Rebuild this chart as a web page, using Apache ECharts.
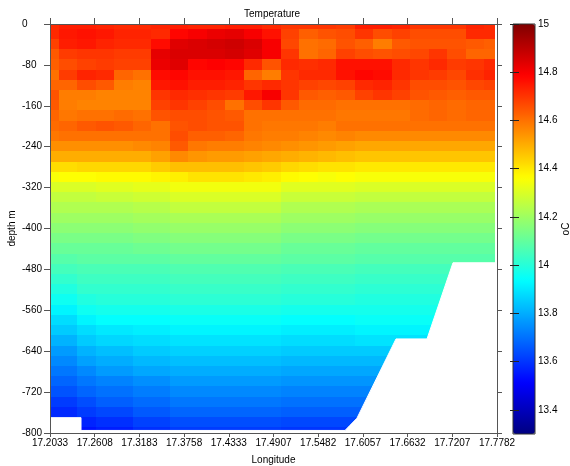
<!DOCTYPE html>
<html lang="en">
<head>
    <meta charset="UTF-8">
    <title>Temperature</title>
    <script src="https://cdn.jsdelivr.net/npm/echarts@6/dist/echarts.min.js"></script>
    <style>
        html, body { margin: 0; padding: 0; background: #fff; }
        #main { width: 570px; height: 466px; }
    </style>
</head>
<body>
<div id="main"></div>
<script>
    // station longitudes (column centres)
    var lons = [17.2033, 17.2271, 17.2509, 17.2747, 17.2985, 17.3223, 17.3461, 17.3699, 17.3937, 17.4175,
                17.4413, 17.4651, 17.4889, 17.5127, 17.5365, 17.5603, 17.5841, 17.6079, 17.6317, 17.6555,
                17.6793, 17.7031, 17.7269, 17.7507, 17.7744];

    // depth levels (m)
    var depths = [0, -20, -40, -60, -80, -100, -120, -140, -160, -180, -200, -220, -240, -260, -280, -300,
                  -320, -340, -360, -380, -400, -420, -440, -460, -480, -500, -520, -540, -560, -580, -600,
                  -620, -640, -660, -680, -700, -720, -740, -760, -780, -800];

    // temperature (oC), one row per depth level, one value per station; null = below the sea floor
    var temps = [
        [14.72,14.74,14.74,14.73,14.72,14.72,14.73,14.74,14.73,14.73,14.74,14.74,14.72,14.70,14.70,14.70,14.69,14.74,14.74,14.73,14.70,14.70,14.70,14.73,14.72],
        [14.72,14.75,14.76,14.75,14.73,14.73,14.72,14.78,14.80,14.82,14.83,14.80,14.76,14.68,14.63,14.65,14.66,14.70,14.66,14.68,14.66,14.66,14.66,14.72,14.72],
        [14.68,14.74,14.75,14.73,14.72,14.72,14.77,14.84,14.85,14.86,14.87,14.85,14.80,14.67,14.60,14.61,14.65,14.63,14.58,14.64,14.65,14.65,14.65,14.64,14.63],
        [14.64,14.69,14.70,14.70,14.69,14.69,14.83,14.85,14.85,14.85,14.86,14.84,14.80,14.70,14.60,14.62,14.68,14.66,14.65,14.66,14.67,14.70,14.66,14.62,14.62],
        [14.63,14.66,14.68,14.69,14.68,14.68,14.82,14.84,14.78,14.79,14.78,14.72,14.65,14.72,14.71,14.72,14.76,14.76,14.76,14.72,14.70,14.72,14.69,14.70,14.72],
        [14.60,14.69,14.73,14.72,14.62,14.60,14.77,14.78,14.76,14.76,14.75,14.62,14.58,14.70,14.72,14.72,14.76,14.78,14.77,14.72,14.70,14.69,14.67,14.71,14.73],
        [14.62,14.62,14.66,14.64,14.58,14.57,14.75,14.76,14.74,14.74,14.73,14.70,14.72,14.70,14.68,14.67,14.68,14.72,14.73,14.70,14.66,14.66,14.65,14.67,14.68],
        [14.65,14.58,14.58,14.57,14.57,14.57,14.70,14.72,14.71,14.70,14.69,14.75,14.80,14.70,14.64,14.63,14.64,14.68,14.70,14.68,14.65,14.64,14.63,14.64,14.64],
        [14.64,14.58,14.57,14.57,14.57,14.57,14.68,14.70,14.68,14.66,14.60,14.66,14.70,14.64,14.61,14.61,14.60,14.60,14.60,14.60,14.61,14.62,14.61,14.62,14.62],
        [14.62,14.59,14.60,14.60,14.61,14.60,14.65,14.66,14.66,14.65,14.64,14.60,14.60,14.60,14.60,14.60,14.59,14.59,14.59,14.59,14.61,14.62,14.61,14.62,14.62],
        [14.61,14.62,14.64,14.65,14.64,14.62,14.60,14.65,14.66,14.65,14.65,14.60,14.59,14.59,14.59,14.58,14.60,14.60,14.60,14.60,14.60,14.60,14.60,14.60,14.60],
        [14.59,14.60,14.60,14.60,14.60,14.60,14.60,14.66,14.63,14.63,14.62,14.59,14.58,14.58,14.57,14.56,14.57,14.56,14.56,14.56,14.56,14.56,14.56,14.56,14.56],
        [14.55,14.55,14.55,14.55,14.55,14.56,14.57,14.64,14.59,14.58,14.58,14.57,14.56,14.55,14.54,14.53,14.52,14.51,14.51,14.51,14.51,14.51,14.51,14.51,14.51],
        [14.50,14.50,14.50,14.50,14.50,14.50,14.52,14.56,14.54,14.53,14.53,14.52,14.51,14.50,14.49,14.48,14.47,14.46,14.46,14.46,14.46,14.46,14.46,14.46,14.46],
        [14.42,14.42,14.43,14.43,14.43,14.43,14.45,14.47,14.47,14.47,14.47,14.46,14.45,14.43,14.42,14.41,14.41,14.40,14.40,14.40,14.40,14.40,14.40,14.40,14.40],
        [14.35,14.36,14.36,14.37,14.37,14.37,14.38,14.39,14.41,14.41,14.41,14.40,14.39,14.37,14.36,14.35,14.36,14.35,14.35,14.35,14.35,14.35,14.35,14.35,14.35],
        [14.30,14.30,14.30,14.31,14.31,14.32,14.32,14.34,14.34,14.34,14.34,14.34,14.34,14.31,14.31,14.31,14.31,14.30,14.30,14.30,14.30,14.30,14.30,14.30,14.30],
        [14.26,14.26,14.26,14.27,14.27,14.28,14.28,14.30,14.30,14.30,14.30,14.30,14.30,14.27,14.27,14.27,14.27,14.26,14.26,14.26,14.26,14.26,14.26,14.26,14.26],
        [14.23,14.23,14.23,14.23,14.23,14.24,14.24,14.26,14.26,14.26,14.26,14.26,14.26,14.23,14.23,14.23,14.23,14.22,14.22,14.22,14.22,14.22,14.22,14.22,14.22],
        [14.20,14.20,14.20,14.20,14.20,14.21,14.21,14.22,14.22,14.22,14.22,14.22,14.22,14.20,14.20,14.20,14.20,14.19,14.19,14.19,14.19,14.19,14.19,14.19,14.19],
        [14.17,14.17,14.17,14.17,14.17,14.18,14.18,14.19,14.19,14.19,14.19,14.19,14.19,14.17,14.17,14.17,14.17,14.16,14.16,14.16,14.16,14.16,14.16,14.16,14.16],
        [14.14,14.14,14.14,14.14,14.14,14.15,14.15,14.16,14.16,14.16,14.16,14.16,14.16,14.14,14.14,14.14,14.14,14.13,14.13,14.13,14.13,14.13,14.13,14.13,14.13],
        [14.11,14.11,14.11,14.11,14.11,14.12,14.12,14.13,14.13,14.13,14.13,14.13,14.13,14.11,14.11,14.11,14.11,14.10,14.10,14.10,14.10,14.10,14.10,14.10,14.10],
        [14.08,14.08,14.09,14.09,14.09,14.09,14.09,14.10,14.10,14.10,14.10,14.10,14.10,14.09,14.09,14.09,14.09,14.08,14.08,14.08,14.08,14.08,14.08,14.08,14.08],
        [14.05,14.05,14.06,14.06,14.06,14.06,14.06,14.07,14.07,14.07,14.07,14.07,14.07,14.06,14.06,14.06,14.06,14.05,14.05,14.05,14.05,14.05,14.05,null,null],
        [14.02,14.02,14.04,14.04,14.04,14.04,14.04,14.05,14.05,14.05,14.05,14.05,14.05,14.04,14.04,14.04,14.04,14.03,14.03,14.03,14.03,14.03,14.03,null,null],
        [13.99,13.99,14.02,14.02,14.02,14.02,14.02,14.03,14.03,14.03,14.03,14.03,14.03,14.02,14.02,14.02,14.02,14.01,14.01,14.01,14.01,14.01,null,null,null],
        [13.96,13.96,13.99,14.00,14.00,14.00,14.00,14.01,14.01,14.01,14.01,14.01,14.01,14.00,14.00,14.00,14.00,13.99,13.99,13.99,13.99,13.99,null,null,null],
        [13.92,13.92,13.96,13.97,13.97,13.97,13.97,13.98,13.98,13.98,13.98,13.98,13.98,13.97,13.97,13.97,13.97,13.97,13.97,13.97,13.97,13.97,null,null,null],
        [13.88,13.88,13.92,13.94,13.94,13.94,13.94,13.95,13.95,13.95,13.95,13.95,13.95,13.94,13.94,13.94,13.94,13.95,13.95,13.95,13.95,13.95,null,null,null],
        [13.85,13.85,13.88,13.90,13.90,13.91,13.91,13.92,13.92,13.92,13.92,13.92,13.92,13.91,13.91,13.91,13.91,13.92,13.92,13.92,13.92,13.92,null,null,null],
        [13.81,13.81,13.85,13.87,13.87,13.88,13.88,13.89,13.89,13.89,13.89,13.89,13.89,13.88,13.88,13.88,13.88,13.89,13.89,13.89,13.89,null,null,null,null],
        [13.77,13.77,13.81,13.83,13.83,13.85,13.85,13.86,13.86,13.86,13.86,13.86,13.86,13.85,13.85,13.85,13.85,13.85,13.85,null,null,null,null,null,null],
        [13.74,13.74,13.78,13.80,13.80,13.82,13.82,13.83,13.83,13.83,13.83,13.83,13.83,13.82,13.82,13.82,13.82,13.82,13.82,null,null,null,null,null,null],
        [13.71,13.71,13.74,13.77,13.77,13.79,13.79,13.80,13.80,13.80,13.80,13.80,13.80,13.79,13.79,13.79,13.79,13.79,13.79,null,null,null,null,null,null],
        [13.68,13.68,13.71,13.73,13.73,13.75,13.75,13.77,13.77,13.77,13.77,13.77,13.77,13.76,13.76,13.76,13.76,13.76,13.76,null,null,null,null,null,null],
        [13.65,13.65,13.68,13.70,13.70,13.72,13.72,13.74,13.74,13.74,13.74,13.74,13.74,13.73,13.73,13.73,13.73,13.73,null,null,null,null,null,null,null],
        [13.61,13.61,13.64,13.67,13.67,13.69,13.69,13.71,13.71,13.71,13.71,13.71,13.71,13.70,13.70,13.70,13.70,13.70,null,null,null,null,null,null,null],
        [13.58,13.58,13.61,13.63,13.63,13.66,13.66,13.68,13.68,13.68,13.68,13.68,13.68,13.67,13.67,13.67,13.67,13.67,null,null,null,null,null,null,null],
        [null,null,13.57,13.59,13.59,13.62,13.62,13.64,13.64,13.64,13.64,13.64,13.64,13.63,13.63,13.63,13.63,13.63,null,null,null,null,null,null,null],
        [null,null,13.54,13.56,13.56,13.59,13.59,13.61,13.61,13.61,13.61,13.61,13.61,13.60,13.60,13.60,13.60,null,null,null,null,null,null,null,null]
    ];

    // sea floor outline along the section
    var bottomLon   = [17.2033, 17.2432, 17.2432, 17.5827, 17.5891, 17.5981, 17.6483, 17.6882, 17.7216, 17.7743, 17.7782];
    var bottomDepth = [-770, -770, -795, -795, -785, -771, -616, -616, -467, -467, -467];

    // tick labels
    var xTicks = [17.2033, 17.2608, 17.3183, 17.3758, 17.4333, 17.4907, 17.5482, 17.6057, 17.6632, 17.7207, 17.7782];
    var barTicks = [13.4, 13.6, 13.8, 14, 14.2, 14.4, 14.6, 14.8, 15];

    // build cells (edges halfway between neighbouring stations / levels)
    var cells = [];
    temps.forEach(function (row, r) {
        row.forEach(function (v, c) {
            if (v == null) return;
            var x0 = c === 0 ? lons[0] : (lons[c - 1] + lons[c]) / 2;
            var x1 = c === lons.length - 1 ? lons[c] : (lons[c] + lons[c + 1]) / 2;
            var y0 = r === 0 ? depths[0] : (depths[r - 1] + depths[r]) / 2;
            var y1 = r === depths.length - 1 ? depths[r] : (depths[r] + depths[r + 1]) / 2;
            cells.push([x0, x1, y0, y1, v]);
        });
    });
    var floor = bottomLon.map(function (x, i) { return [x, bottomDepth[i]]; });

    var font = 'Liberation Sans';
    var axisCol = '#555';

    var chart = echarts.init(document.getElementById('main'), null, {renderer: 'canvas'});
    chart.setOption({
        animation: false,
        backgroundColor: '#fff',
        textStyle: {fontFamily: font},
        title: {
            text: 'Temperature',
            left: 244, top: 9, padding: 0,
            textStyle: {fontSize: 10, fontWeight: 'normal', color: '#000', fontFamily: font}
        },
        grid: [
            {left: 50, top: 24, width: 447, height: 409, outerBoundsMode: 'none', containLabel: false},
            {left: 513, top: 24, width: 22, height: 410, show: true, z: 10, outerBoundsMode: 'none', containLabel: false,
             borderColor: '#333', borderWidth: 1, backgroundColor: 'transparent'}
        ],
        xAxis: [
            {
                type: 'value', gridIndex: 0, position: 'bottom', min: 17.2033, max: 17.7782, z: 10,
                name: 'Longitude', nameLocation: 'middle', nameGap: 22,
                nameTextStyle: {fontSize: 10, color: '#000', fontFamily: font},
                axisLine: {show: true, onZero: false, lineStyle: {color: axisCol}},
                axisTick: {show: true, length: 4, customValues: xTicks, lineStyle: {color: axisCol}},
                axisLabel: {fontSize: 10, color: '#000', margin: 5, customValues: xTicks,
                    formatter: function (v) { return v.toFixed(4); }},
                splitLine: {show: false}
            },
            {
                type: 'value', gridIndex: 0, position: 'top', min: 17.2033, max: 17.7782, z: 10,
                axisLine: {show: true, onZero: false, lineStyle: {color: axisCol}},
                axisTick: {show: true, length: 6, customValues: xTicks, lineStyle: {color: axisCol}},
                axisLabel: {show: false},
                splitLine: {show: false}
            },
            {type: 'value', gridIndex: 1, min: 0, max: 1, show: false}
        ],
        yAxis: [
            {
                type: 'value', gridIndex: 0, position: 'left', min: -800, max: 0, interval: 80, z: 10,
                name: 'depth m', nameLocation: 'middle', nameRotate: 90, nameGap: 33, nameMoveOverlap: false,
                nameTextStyle: {fontSize: 10, color: '#000', fontFamily: font},
                axisLine: {show: true, onZero: false, lineStyle: {color: axisCol}},
                axisTick: {show: true, length: 6, lineStyle: {color: axisCol}},
                axisLabel: {fontSize: 10, color: '#000', margin: 28, align: 'left'},
                splitLine: {show: false}
            },
            {
                type: 'value', gridIndex: 0, position: 'right', min: -800, max: 0, interval: 80, z: 10,
                axisLine: {show: true, onZero: false, lineStyle: {color: axisCol}},
                axisTick: {show: true, length: 5, lineStyle: {color: axisCol}},
                axisLabel: {show: false},
                splitLine: {show: false}
            },
            {
                type: 'value', gridIndex: 1, position: 'right', min: 13.3, max: 15, z: 12,
                name: 'oC', nameLocation: 'middle', nameRotate: 90, nameGap: 24,
                nameTextStyle: {fontSize: 10, color: '#000', fontFamily: font},
                axisLine: {show: false},
                axisTick: {show: true, inside: true, length: 3, customValues: barTicks, lineStyle: {color: '#222'}},
                axisLabel: {fontSize: 10, color: '#000', margin: 3, customValues: barTicks},
                splitLine: {show: false}
            },
            {
                type: 'value', gridIndex: 1, position: 'left', min: 13.3, max: 15, z: 12,
                axisLine: {show: false},
                axisTick: {show: true, inside: true, length: 6, customValues: barTicks, lineStyle: {color: '#222'}},
                axisLabel: {show: false},
                splitLine: {show: false}
            }
        ],
        visualMap: {
            type: 'continuous', min: 13.3, max: 15, dimension: 4, seriesIndex: 0,
            orient: 'vertical', left: 513, top: 24, padding: 0,
            itemWidth: 22, itemHeight: 410, calculable: false, hoverLink: false,
            text: null, showLabel: false,
            inRange: {color: ['#000080', '#0000ff', '#0080ff', '#00ffff', '#80ff80', '#ffff00', '#ff8000', '#ff0000', '#800000']}
        },
        series: [
            {
                type: 'custom', xAxisIndex: 0, yAxisIndex: 0, z: 1,
                data: cells,
                encode: {x: [0, 1], y: [2, 3]},
                renderItem: function (params, api) {
                    var p0 = api.coord([api.value(0), api.value(2)]);
                    var p1 = api.coord([api.value(1), api.value(3)]);
                    var x = Math.floor(p0[0]), y = Math.floor(p0[1]);
                    return {
                        type: 'rect',
                        shape: {x: x, y: y, width: Math.ceil(p1[0]) - x, height: Math.ceil(p1[1]) - y},
                        style: {fill: api.visual('color')}
                    };
                }
            },
            {
                type: 'line', xAxisIndex: 0, yAxisIndex: 0, z: 2,
                data: floor,
                showSymbol: false, silent: true,
                lineStyle: {color: '#fff', width: 1},
                areaStyle: {color: '#fff', opacity: 1, origin: 'start'}
            }
        ]
    });
</script>
</body>
</html>
